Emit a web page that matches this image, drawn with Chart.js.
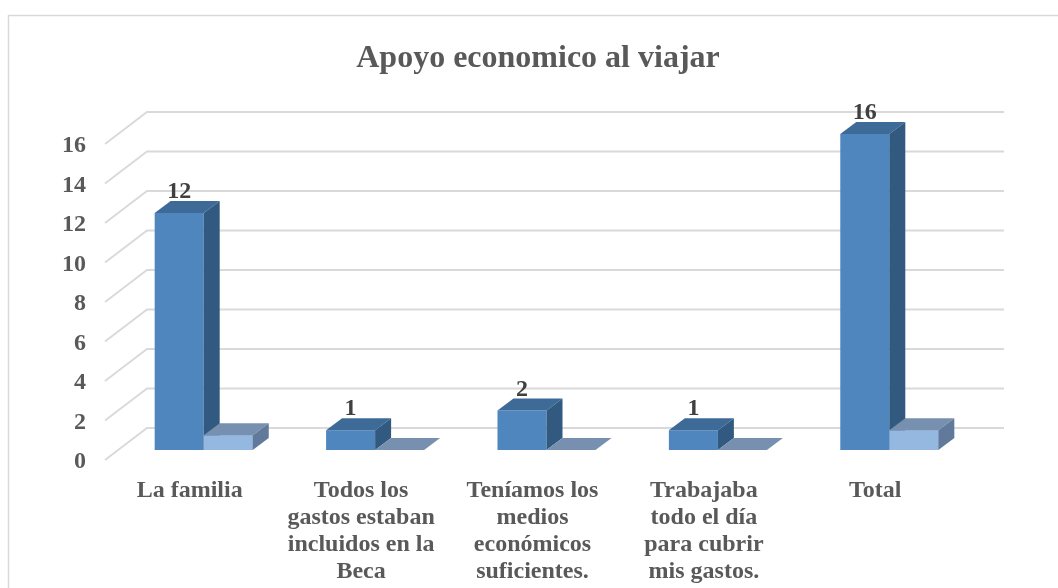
<!DOCTYPE html>
<html>
<head>
<meta charset="utf-8">
<script src="https://cdn.jsdelivr.net/npm/chart.js@4/dist/chart.umd.min.js"></script>
<style>
  html, body { margin: 0; padding: 0; background: #fff; }
  #wrap { width: 1058px; height: 588px; }
</style>
</head>
<body>
<div id="wrap"><canvas id="apoyo"></canvas></div>
<script>
const titulo = "Apoyo economico al viajar";
const categorias = [
  ["La familia"],
  ["Todos los", "gastos estaban", "incluidos en la", "Beca"],
  ["Teníamos los", "medios", "económicos", "suficientes."],
  ["Trabajaba", "todo el día", "para cubrir", "mis gastos."],
  ["Total"]
];
const cantidad = [12, 1, 2, 1, 16];
const porcentaje = [0.75, 0, 0, 0, 1];
const yMin = 0, yMax = 16, yStep = 2;

const serif = "'Liberation Serif', 'Times New Roman', serif";
const grisTexto = "#595959";

// offsets of the fake 3D
const prof = { dx: 16, dy: -12 };   // bar depth
const pared = { dx: 29, dy: -22 };  // back wall
const frente = { dx: -13, dy: 10 }; // front edge

const caras = [
  { top: "#3d6a97", side: "#325a80" },
  { top: "#7790b0", side: "#617a9b" }
];

function dibujaCaras(chart, idx) {
  const c = chart.ctx, col = caras[idx];
  c.save();
  chart.getDatasetMeta(idx).data.forEach(b => {
    const l = b.x - b.width / 2, r = b.x + b.width / 2, t = b.y, base = b.base;
    c.fillStyle = col.top;
    c.beginPath();
    c.moveTo(l, t); c.lineTo(r, t);
    c.lineTo(r + prof.dx, t + prof.dy); c.lineTo(l + prof.dx, t + prof.dy);
    c.closePath(); c.fill();
    c.fillStyle = col.side;
    c.beginPath();
    c.moveTo(r, t); c.lineTo(r + prof.dx, t + prof.dy);
    c.lineTo(r + prof.dx, base + prof.dy); c.lineTo(r, base);
    c.closePath(); c.fill();
  });
  c.restore();
}

const tresD = {
  id: "tresD",
  beforeDraw(chart) {
    const c = chart.ctx;
    c.save();
    c.fillStyle = "#fff";
    c.fillRect(0, 0, chart.width, chart.height);
    c.strokeStyle = "#d9d9d9";
    c.lineWidth = 1.5;
    c.strokeRect(8.5, 15.5, 1200, 800);
    c.font = "bold 32px " + serif;
    c.fillStyle = grisTexto;
    c.textAlign = "center";
    c.textBaseline = "alphabetic";
    c.fillText(titulo, 538, 67);
    c.restore();
  },
  beforeDatasetsDraw(chart) {
    const c = chart.ctx, y = chart.scales.y, a = chart.chartArea;
    c.save();
    c.strokeStyle = "#d9d9d9";
    c.lineWidth = 1.8;
    y.ticks.forEach(t => {
      const py = y.getPixelForValue(t.value);
      c.beginPath();
      c.moveTo(a.left + frente.dx, py + frente.dy);
      c.lineTo(a.left + pared.dx, py + pared.dy);
      c.lineTo(a.right + pared.dx, py + pared.dy);
      c.stroke();
    });
    c.restore();
  },
  afterDatasetsDraw(chart) {
    // Chart.js paints dataset 1 first; put the front one (index 1) back on top
    dibujaCaras(chart, 0);
    chart.getDatasetMeta(1).controller.draw();
    dibujaCaras(chart, 1);

    const c = chart.ctx, meta = chart.getDatasetMeta(0);
    c.save();
    c.font = "bold 24px " + serif;
    c.fillStyle = "#404040";
    c.textAlign = "center";
    c.textBaseline = "alphabetic";
    meta.data.forEach((b, i) => {
      c.fillText(String(cantidad[i]), b.x, b.y + prof.dy - 3);
    });
    c.restore();
  }
};

new Chart(document.getElementById("apoyo"), {
  type: "bar",
  data: {
    labels: categorias,
    datasets: [
      { label: "Cantidad", data: cantidad, backgroundColor: "#4f86be", borderWidth: 0 },
      { label: "Porcentaje", data: porcentaje, backgroundColor: "#95b8e1", borderWidth: 0 }
    ]
  },
  options: {
    responsive: true,
    maintainAspectRatio: false,
    animation: false,
    events: [],
    layout: { padding: { left: 18, right: 83, top: 134, bottom: 0 } },
    datasets: { bar: { categoryPercentage: 0.572, barPercentage: 1 } },
    scales: {
      x: {
        grid: { display: false, drawTicks: false },
        border: { display: false },
        ticks: {
          color: grisTexto,
          font: { family: serif, size: 24, weight: "bold", lineHeight: 1.125 },
          padding: 27,
          labelOffset: -14,
          maxRotation: 0,
          autoSkip: false
        },
        afterFit: s => { s.height = 138; }
      },
      y: {
        min: yMin,
        max: yMax,
        grid: { display: false, drawTicks: false },
        border: { display: false },
        ticks: {
          stepSize: yStep,
          color: grisTexto,
          font: { family: serif, size: 24, weight: "bold" },
          padding: 32,
          labelOffset: 12
        },
        afterFit: s => { s.width = 100; }
      }
    },
    plugins: {
      legend: { display: false },
      tooltip: { enabled: false },
      title: { display: false }
    }
  },
  plugins: [tresD]
});
</script>
</body>
</html>
